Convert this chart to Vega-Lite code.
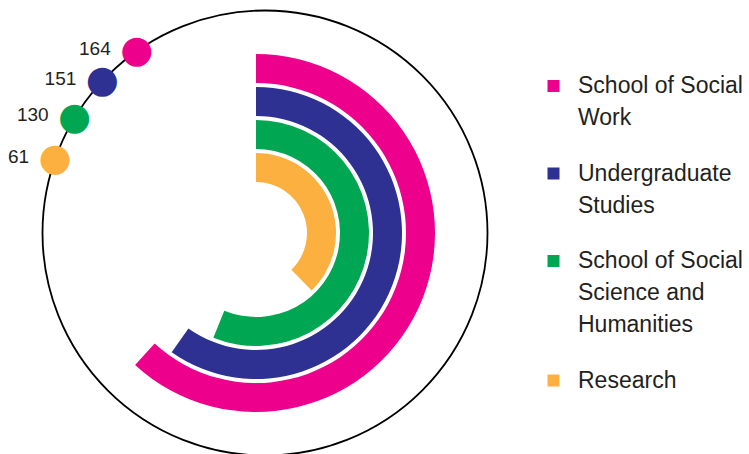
{
  "$schema": "https://vega.github.io/schema/vega-lite/v6.json",
  "width": 512,
  "height": 442,
  "padding": {"left": 0, "top": 12, "right": 237, "bottom": 0},
  "autosize": {"type": "none"},
  "background": "white",
  "config": {
    "view": {"stroke": null},
    "font": "Liberation Sans",
    "style": {"guide-label": {"lineHeight": 32}}
  },
  "data": {
    "values": [
      {"name": "School of Social Work", "value": 164},
      {"name": "Undergraduate Studies", "value": 151},
      {"name": "School of Social Science and Humanities", "value": 130},
      {"name": "Research", "value": 61}
    ]
  },
  "resolve": {"scale": {"theta": "independent", "radius": "independent"}},
  "layer": [
    {
      "mark": {"type": "arc", "radiusOffset": 14.5, "radius2Offset": -14.5},
      "encoding": {
        "theta": {
          "field": "value",
          "type": "quantitative",
          "stack": null,
          "scale": {"type": "log", "domain": [61, 164], "range": [2.3736, 3.8834], "nice": false}
        },
        "theta2": {"value": 0},
        "radius": {
          "field": "name",
          "type": "nominal",
          "scale": {
            "type": "point",
            "domain": ["Research", "School of Social Science and Humanities", "Undergraduate Studies", "School of Social Work"],
            "range": [65.5, 164.5],
            "padding": 0
          }
        },
        "radius2": {"field": "name"},
        "color": {
          "field": "name",
          "type": "nominal",
          "scale": {
            "domain": ["School of Social Work", "Undergraduate Studies", "School of Social Science and Humanities", "Research"],
            "range": ["#ec008c", "#2e3192", "#00a651", "#fbb040"]
          },
          "legend": {
            "orient": "none",
            "legendX": 542,
            "legendY": 62.5,
            "title": null,
            "symbolType": "square",
            "symbolSize": 144,
            "symbolStrokeWidth": 0,
            "symbolOpacity": 1,
            "labelFont": "Liberation Sans",
            "labelFontSize": 23,
            "labelColor": "#231f20",
            "labelOffset": 13,
            "rowPadding": 31.5,
            "labelLimit": 0,
            "padding": 0,
            "labelExpr": "datum.label == 'School of Social Work' ? ['School of Social', 'Work'] : datum.label == 'Undergraduate Studies' ? ['Undergraduate', 'Studies'] : datum.label == 'School of Social Science and Humanities' ? ['School of Social', 'Science and', 'Humanities'] : datum.label"
          }
        }
      }
    },
    {
      "data": {"values": [{}]},
      "mark": {"type": "arc", "filled": false, "stroke": "#000000", "strokeWidth": 1.8, "theta": 0, "theta2": 6.2832, "radius": 222.5, "xOffset": 9},
      "encoding": {}
    },
    {
      "mark": {"type": "text", "text": "●", "font": "DejaVu Sans", "fontSize": 38, "radius": 222.5, "xOffset": 9, "align": "center", "baseline": "middle"},
      "encoding": {
        "theta": {
          "field": "name",
          "type": "nominal",
          "scale": {
            "type": "point",
            "domain": ["School of Social Work", "Undergraduate Studies", "School of Social Science and Humanities", "Research"],
            "range": [-0.6144, -1.2322],
            "padding": 0
          }
        },
        "color": {"field": "name", "type": "nominal", "legend": null}
      }
    },
    {
      "mark": {"type": "text", "radius": 222.5, "xOffset": 9, "align": "right", "baseline": "middle", "dx": -26, "dy": -2.5, "fontSize": 19, "font": "Liberation Sans", "color": "#231f20"},
      "encoding": {
        "theta": {
          "field": "name",
          "type": "nominal",
          "scale": {
            "type": "point",
            "domain": ["School of Social Work", "Undergraduate Studies", "School of Social Science and Humanities", "Research"],
            "range": [-0.6144, -1.2322],
            "padding": 0
          }
        },
        "text": {"field": "value", "type": "quantitative"}
      }
    }
  ]
}
